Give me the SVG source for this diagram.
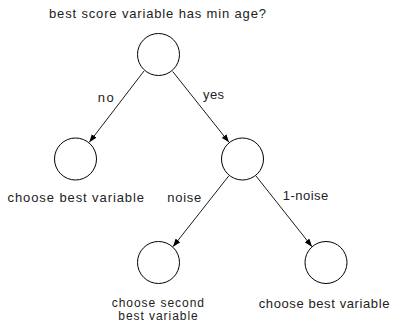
<svg xmlns="http://www.w3.org/2000/svg" width="396" height="323" viewBox="0 0 396 323">
<style>
.node{fill:#fff;stroke:#000;stroke-width:1}
.edge{stroke:#000;stroke-width:0.9;fill:none;marker-end:url(#ah)}
text{font-family:"Liberation Sans",Arial,sans-serif;font-size:13px;fill:#222}
.two{font-size:12px}
</style>
<defs>
<marker id="ah" markerWidth="8" markerHeight="6" refX="8" refY="3" orient="auto" markerUnits="userSpaceOnUse">
<path d="M0,0 L8,3 L0,6 Z" fill="#000"/>
</marker>
</defs>
<rect width="396" height="323" fill="#fff"/>
<g id="root">
<circle class="node" cx="158.5" cy="54.5" r="21"/>
<text x="49" y="17.5" textLength="217" lengthAdjust="spacing">best score variable has min age?</text>
</g>
<g id="left">
<circle class="node" cx="75.5" cy="159" r="21"/>
<text x="7.5" y="202" textLength="136.5" lengthAdjust="spacing">choose best variable</text>
</g>
<g id="mid">
<circle class="node" cx="242.5" cy="159" r="21"/>
</g>
<g id="bl">
<circle class="node" cx="158.5" cy="262.5" r="21"/>
<text class="two" x="111.7" y="306.6" textLength="92.3" lengthAdjust="spacing">choose second</text>
<text class="two" x="118.3" y="320" textLength="79.4" lengthAdjust="spacing">best variable</text>
</g>
<g id="br">
<circle class="node" cx="326" cy="262.5" r="21"/>
<text x="258.7" y="308" textLength="130.7" lengthAdjust="spacing">choose best variable</text>
</g>
<g id="connectors">
<line class="edge" x1="144" y1="71" x2="89.3" y2="142.3"/>
<line class="edge" x1="172.7" y1="71.5" x2="229" y2="142.3"/>
<line class="edge" x1="228.7" y1="176" x2="173" y2="246.7"/>
<line class="edge" x1="256" y1="176" x2="312" y2="246.7"/>
<text x="97.7" y="102" textLength="16" lengthAdjust="spacing">no</text>
<text x="203" y="99" textLength="21" lengthAdjust="spacing">yes</text>
<text x="167.3" y="202" textLength="34" lengthAdjust="spacing">noise</text>
<text x="282.7" y="199.5" textLength="45.6" lengthAdjust="spacing">1-noise</text>
</g>
</svg>
